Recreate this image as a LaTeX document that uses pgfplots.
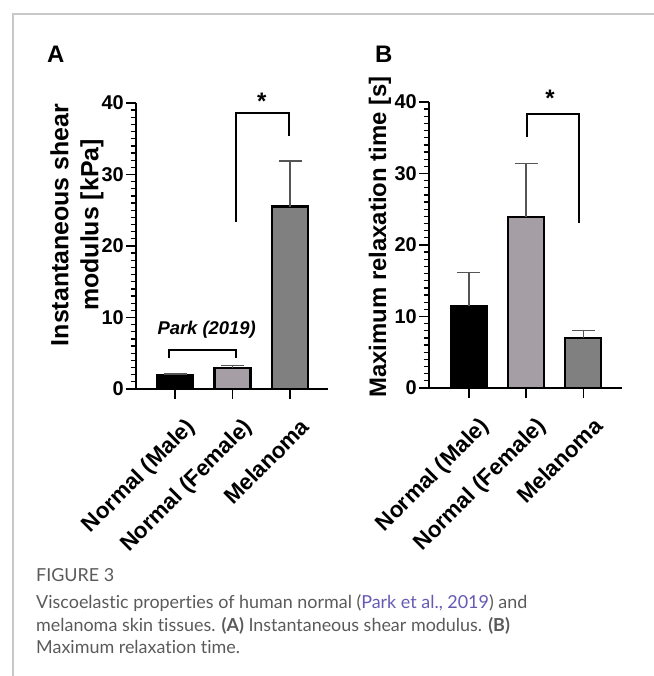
\documentclass[border=0pt]{standalone}
\usepackage{fontspec}
\setmainfont{Liberation Sans}
\newfontfamily\capfont[Ligatures=NoCommon]{Lato}
\usepackage{pgfplots}
\pgfplotsset{compat=1.18}
\definecolor{femc}{RGB}{165,158,165}
\definecolor{melc}{RGB}{128,128,128}
\definecolor{errc}{RGB}{85,85,85}
\definecolor{capgray}{RGB}{90,90,90}
\definecolor{linkc}{RGB}{100,90,180}
\definecolor{framec}{RGB}{200,200,200}
\pgfplotsset{
  panel/.style={
    scale only axis, height=286bp,
    ymin=0, ymax=40,
    axis x line*=bottom, axis y line*=left,
    axis line style={line width=2bp, black},
    ytick={0,10,20,30,40}, minor y tick num=9,
    tick align=outside,
    major tick length=10bp, minor tick length=5.5bp,
    every tick/.style={black, line width=1.3bp},
    xtick={0,1,2},
    xticklabels={Normal (Male),Normal (Female),Melanoma},
    /pgf/number format/assume math mode=true,
    x tick label style={rotate=45, anchor=north east, inner sep=1bp,
      xshift=-5bp, yshift=-18bp,
      font=\bfseries\fontsize{22.5}{22}\selectfont},
    y tick label style={font=\bfseries\fontsize{20}{20}\selectfont, inner sep=2bp},
    clip=false,
    ybar, bar width=36bp, bar shift=0pt,
  },
  bars/.style={draw=black, line width=2.5bp, fill=#1,
    error bars/.cd, y dir=plus, y explicit,
    error bar style={line width=1.3bp, color=errc},
    error mark options={rotate=90, line width=1.3bp, color=errc, mark size=11.5bp}},
}
\begin{document}
\begin{tikzpicture}[x=1bp,y=1bp]
\useasboundingbox (0,0) rectangle (654,676);
\draw[framec, line width=1.5bp] (13,0) -- (13,662) -- (654,662);
% Panel A
\node[anchor=base west, inner sep=0, font=\bfseries\fontsize{24}{24}\selectfont] at (47,613) {A};
\node[rotate=90, align=center, font=\bfseries\fontsize{25}{30}\selectfont] at (77,451) {Instantaneous shear\\modulus [kPa]};
\begin{axis}[panel, at={(136bp,287bp)}, anchor=south west, width=192bp, xmin=-0.68, xmax=2.66]
\addplot[bars=black] coordinates {(0,1.95) +- (0,0.15)};
\addplot[bars=femc] coordinates {(1,2.95) +- (0,0.35)};
\addplot[bars=melc] coordinates {(2,25.5) +- (0,6.4)};
\draw[line width=2bp] (axis cs:1.06,23.4) -- (axis cs:1.06,38.6) -- (axis cs:1.98,38.6) -- (axis cs:1.98,35.4);
\node[font=\bfseries\fontsize{24}{24}\selectfont] at (axis cs:1.51,40.3) {*};
\draw[line width=2bp] (axis cs:-0.10,4.3) -- (axis cs:-0.10,5.45) -- (axis cs:1.06,5.45) -- (axis cs:1.06,4.3);
\node[font=\bfseries\itshape\fontsize{18.5}{20}\selectfont] at (axis cs:0.55,8.25) {Park (2019)};
\end{axis}
% Panel B
\node[anchor=base west, inner sep=0, font=\bfseries\fontsize{24}{24}\selectfont] at (375,613) {B};
\node[rotate=90, font=\bfseries\fontsize{24}{28}\selectfont] at (380,439) {Maximum relaxation time [s]};
\begin{axis}[panel, at={(429bp,288bp)}, anchor=south west, width=193bp, xmin=-0.70, xmax=2.68]
\addplot[bars=black] coordinates {(0,11.4) +- (0,4.8)};
\addplot[bars=femc] coordinates {(1,23.9) +- (0,7.5)};
\addplot[bars=melc] coordinates {(2,7.0) +- (0,1.0)};
\draw[line width=2bp] (axis cs:1.02,35.1) -- (axis cs:1.02,38.3) -- (axis cs:1.93,38.3) -- (axis cs:1.93,23.1);
\node[font=\bfseries\fontsize{24}{24}\selectfont] at (axis cs:1.42,40.5) {*};
\end{axis}
% Caption
\node[anchor=base west, inner sep=0, text=capgray, font=\capfont\fontsize{18}{20}\selectfont] at (36,94) {FIGURE 3};
\node[anchor=base west, inner sep=0, text=capgray, font=\capfont\fontsize{18}{20}\selectfont] at (36,67) {Viscoelastic properties of human normal (\textcolor{linkc}{Park et al., 2019}) and};
\node[anchor=base west, inner sep=0, text=capgray, font=\capfont\fontsize{18}{20}\selectfont] at (36,44) {melanoma skin tissues. \textbf{(A)} Instantaneous shear modulus. \textbf{(B)}};
\node[anchor=base west, inner sep=0, text=capgray, font=\capfont\fontsize{18}{20}\selectfont] at (36,22) {Maximum relaxation time.};
\end{tikzpicture}
\end{document}
